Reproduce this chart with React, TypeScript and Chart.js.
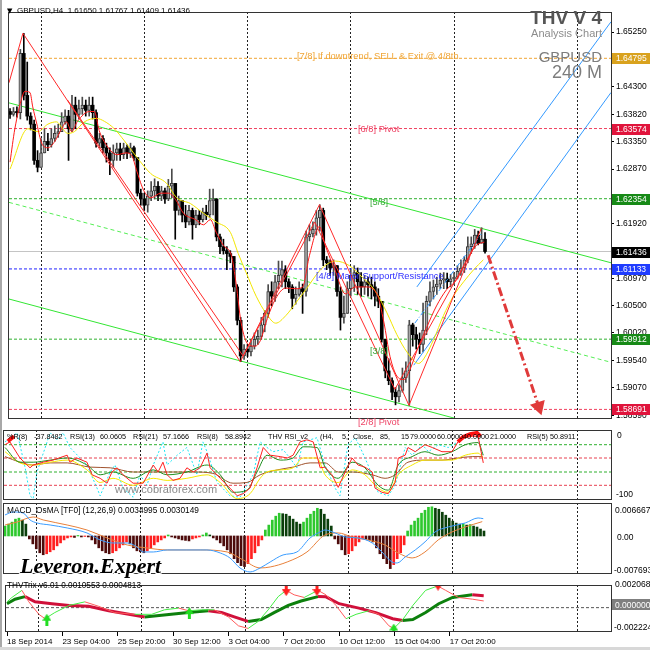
import React, { useEffect, useRef } from "react";
import { Chart, registerables } from "chart.js";
Chart.register(...registerables);

const FONT = '"Liberation Sans", Arial, sans-serif';
const X_MIN = -0.3;
const X_MAX = 174.6;

// ---------- price panel ----------
const PRICE_MIN = 1.58524;
const PRICE_MAX = 1.656;
const firstOpen = 1.6387;
const closes = [
  1.6382, 1.6387, 1.6385, 1.6488, 1.6415, 1.6379, 1.6365, 1.6302, 1.629, 1.6315,
  1.6335, 1.6329, 1.634, 1.6349, 1.6352, 1.6369, 1.6379, 1.6357, 1.6398, 1.6382,
  1.6392, 1.6398, 1.6389, 1.6398, 1.6385, 1.6332, 1.634, 1.6324, 1.6315, 1.6302,
  1.6315, 1.6322, 1.6312, 1.6324, 1.6315, 1.6324, 1.6307, 1.6245, 1.6235, 1.6224,
  1.624, 1.6249, 1.6257, 1.624, 1.6249, 1.6235, 1.6257, 1.6262, 1.6215, 1.6232,
  1.6207, 1.6195, 1.6215, 1.619, 1.6207, 1.6199, 1.6212, 1.6207, 1.6232, 1.6235,
  1.6169, 1.6152, 1.6145, 1.614, 1.6135, 1.6082, 1.6024, 1.5962, 1.5974, 1.5969,
  1.5979, 1.5991, 1.5996, 1.6016, 1.6036, 1.6074, 1.6066, 1.6091, 1.6102, 1.6112,
  1.6091, 1.6082, 1.6062, 1.6069, 1.6079, 1.6074, 1.6169, 1.6174, 1.6182, 1.6202,
  1.6215, 1.6129, 1.6124, 1.6115, 1.6119, 1.6074, 1.6029, 1.6036, 1.6079, 1.6102,
  1.6107, 1.6091, 1.6082, 1.6091, 1.6086, 1.6082, 1.6066, 1.6057, 1.5991, 1.5936,
  1.5919, 1.5899, 1.5891, 1.5902, 1.5924, 1.5936, 1.6016, 1.5999, 1.5991, 1.5982,
  1.6007, 1.6057, 1.6074, 1.6082, 1.6087, 1.6094, 1.6096, 1.6091, 1.6096, 1.6099,
  1.6109, 1.6115, 1.6129, 1.6152, 1.6157, 1.6172, 1.6158, 1.6165, 1.61436,
];
const highs = [
  1.6392, 1.6394, 1.6395, 1.6495, 1.6523, 1.6473, 1.6385, 1.6372, 1.6319, 1.634,
  1.6357, 1.6349, 1.6357, 1.6362, 1.6365, 1.6385, 1.639, 1.6389, 1.6415, 1.6412,
  1.6407, 1.6412, 1.6407, 1.6412, 1.6412, 1.639, 1.6349, 1.6345, 1.6332, 1.6324,
  1.6329, 1.6332, 1.6332, 1.6332, 1.6329, 1.6332, 1.6327, 1.6307, 1.6252, 1.6245,
  1.6249, 1.6265, 1.627, 1.6265, 1.6257, 1.6254, 1.6269, 1.6287, 1.6257, 1.624,
  1.6232, 1.6224, 1.6224, 1.6219, 1.6215, 1.6215, 1.6219, 1.6224, 1.6252, 1.6252,
  1.6235, 1.6174, 1.6165, 1.6152, 1.6145, 1.6135, 1.6086, 1.6029, 1.5982, 1.5982,
  1.5991, 1.6002, 1.6007, 1.6029, 1.6041, 1.6086, 1.6091, 1.6102, 1.6127, 1.6127,
  1.6119, 1.6096, 1.6086, 1.6082, 1.6091, 1.6087, 1.6179, 1.619, 1.6195, 1.6215,
  1.6225, 1.6219, 1.6135, 1.6129, 1.6129, 1.6119, 1.6082, 1.6066, 1.6091, 1.6112,
  1.6119, 1.6115, 1.6107, 1.6102, 1.6099, 1.6099, 1.6091, 1.6079, 1.6057, 1.5991,
  1.5957, 1.5924, 1.5907, 1.5912, 1.5941, 1.5952, 1.6024, 1.6019, 1.6012, 1.6002,
  1.6054, 1.6066, 1.6091, 1.6094, 1.6099, 1.6106, 1.6107, 1.6106, 1.6104, 1.6107,
  1.6119, 1.6129, 1.6135, 1.6169, 1.6169, 1.6182, 1.6179, 1.6185, 1.61767,
];
const lows = [
  1.6375, 1.6379, 1.6377, 1.6374, 1.6407, 1.6372, 1.6355, 1.6295, 1.6282, 1.629,
  1.6315, 1.6319, 1.6325, 1.6335, 1.6342, 1.6352, 1.6365, 1.6302, 1.6352, 1.6357,
  1.6374, 1.6382, 1.6379, 1.6379, 1.6374, 1.6325, 1.6324, 1.6315, 1.6299, 1.6277,
  1.629, 1.6302, 1.6302, 1.6305, 1.6305, 1.6307, 1.6302, 1.624, 1.6224, 1.6215,
  1.6212, 1.6232, 1.6235, 1.6232, 1.6232, 1.6227, 1.6232, 1.6237, 1.6165, 1.6207,
  1.6195, 1.6185, 1.619, 1.6165, 1.6185, 1.619, 1.6195, 1.6199, 1.6202, 1.6207,
  1.6162, 1.614, 1.6139, 1.6112, 1.6124, 1.6074, 1.6016, 1.5952, 1.5956, 1.5961,
  1.5962, 1.5974, 1.5982, 1.5991, 1.6004, 1.6029, 1.6049, 1.6057, 1.6079, 1.6082,
  1.6079, 1.6072, 1.6044, 1.6052, 1.6066, 1.6036, 1.6066, 1.6162, 1.6169, 1.6172,
  1.6179, 1.6119, 1.6112, 1.6102, 1.6102, 1.6066, 1.6007, 1.6019, 1.6062, 1.6066,
  1.6074, 1.6069, 1.6066, 1.6069, 1.6066, 1.6061, 1.6049, 1.6046, 1.5986, 1.5924,
  1.5912, 1.5886, 1.5877, 1.5882, 1.5899, 1.5916, 1.5876, 1.5979, 1.5974, 1.5966,
  1.5969, 1.5999, 1.6049, 1.6061, 1.6069, 1.6079, 1.6079, 1.6079, 1.6082, 1.6086,
  1.6096, 1.6102, 1.6107, 1.6124, 1.614, 1.6149, 1.6155, 1.6162, 1.61409,
];

const priceTicks = [1.6525, 1.643, 1.6382, 1.6335, 1.6287, 1.6192, 1.6097, 1.605, 1.6002, 1.5954, 1.5907, 1.5859];
const gridTicks = [9, 39, 69, 99, 129, 165];
const dateTicks = [0, 16, 32, 48, 64, 80, 96, 112, 128];
const dateLabels = ["18 Sep 2014", "23 Sep 04:00", "25 Sep 20:00", "30 Sep 12:00", "3 Oct 04:00", "7 Oct 20:00", "10 Oct 12:00", "15 Oct 04:00", "17 Oct 20:00"];

const levelPrices = [1.64795, 1.63574, 1.62354, 1.61133, 1.59912, 1.58691];
const levelColors = ["#f0a535", "#f0405e", "#2fb02f", "#2323ff", "#2fb02f", "#f0405e"];
const badgeColors = ["#d9a21e", "#e0143c", "#178a17", "#1f3cff", "#178a17", "#e0143c"];
const bidPrice = 1.61436;

const yellowMA: [number, number][] = [[0,1.6287],[5.2,1.6357],[8.1,1.6352],[11,1.6365],[13.5,1.6369],[15.3,1.6357],[16.7,1.6349],[18.7,1.6352],[21.6,1.6369],[25.1,1.6375],[27.4,1.637],[30.3,1.6357],[33.1,1.6337],[36.9,1.6307],[40.9,1.6279],[45.5,1.6262],[48.4,1.6237],[52.4,1.6227],[56.2,1.621],[59.9,1.6195],[64,1.6177],[66.3,1.614],[68.6,1.6107],[71.5,1.6066],[74.4,1.6036],[77.2,1.6019],[80.1,1.6032],[83,1.6054],[85.9,1.6077],[89.9,1.611],[92.2,1.6122],[94.5,1.6127],[98.6,1.6119],[102.3,1.6099],[105.2,1.6082],[106.6,1.607],[109.5,1.6037],[112.4,1.5999],[115.3,1.5969],[118.7,1.5949],[120.2,1.5957],[123.1,1.5991],[125.9,1.6032],[128.8,1.6066],[131.8,1.6091],[134.7,1.6112],[137.5,1.6129]];
const redMA: [number, number][] = [[0,1.6299],[1.4,1.6357],[3.5,1.6412],[4.3,1.6422],[5.8,1.642],[6.6,1.6395],[7.8,1.6365],[9.2,1.6332],[11,1.6324],[13,1.6335],[15,1.6357],[16.4,1.6369],[17.9,1.6352],[19.6,1.637],[23.1,1.6387],[24.5,1.6387],[25.9,1.6354],[28.2,1.6327],[31.1,1.6312],[33.7,1.6315],[35.4,1.631],[36.9,1.6282],[38.9,1.6249],[40.9,1.6237],[43.8,1.6245],[46.1,1.6245],[48.1,1.6234],[50.4,1.621],[53.9,1.6199],[56.2,1.619],[58.2,1.6199],[59.9,1.6177],[62,1.6154],[64.3,1.6137],[65.7,1.6087],[67.1,1.6021],[69.2,1.5982],[71.2,1.5979],[72.9,1.5991],[74.4,1.6021],[77.2,1.6062],[80.1,1.608],[83,1.6079],[85,1.6082],[87,1.6137],[89.9,1.6187],[91.6,1.6154],[94.5,1.611],[97.4,1.607],[100.3,1.6082],[103.2,1.6082],[106.6,1.607],[108.6,1.6021],[110.4,1.5961],[112.4,1.5927],[114.4,1.5921],[116.1,1.5937],[118.2,1.5971],[121,1.6011],[123.9,1.6049],[126.8,1.6077],[129.7,1.6094],[132.6,1.6127],[135.4,1.6154],[137.8,1.616]];
const zigMajor: [number, number][] = [[-0.3,1.6437],[3.75,1.6523],[66.9,1.5952],[89.9,1.6225],[115.9,1.5876],[136.9,1.6184]];
const zigMinor: [number, number][] = [[16.7,1.6407],[67.7,1.5962],[88.5,1.6195],[111.8,1.5904],[134.6,1.6149]];
const chUpper: [number, number][] = [[-0.3,1.6402],[174.6,1.6124]];
const chMid: [number, number][] = [[-0.3,1.6229],[174.6,1.5951]];
const chLower: [number, number][] = [[-0.3,1.6061],[174.6,1.5781]];
const blueUpper: [number, number][] = [[118.2,1.6082],[174.6,1.6543]];
const blueLower: [number, number][] = [[117.3,1.5946],[174.6,1.642]];
const blueMid: [number, number][] = [[117.6,1.6019],[136.9,1.6174]];
const arrowLine: [number, number][] = [[138.9,1.6137],[153.6,1.5874]];

// ---------- RSI panel ----------
const rsiLevels = [-21, -40, -60, -79];
const rsiLevelColors = ["#2fb02f", "#e84050", "#2fb02f", "#e84050"];
const rsiRed: [number, number][] = [[0,-21],[1.4,-17],[4.3,-40],[7.2,-54],[8.1,-50],[11,-46],[13.8,-43],[16.7,-38],[17.9,-36],[18.7,-46],[20.7,-40],[23.6,-46],[25.1,-64],[27.4,-69],[29.4,-76],[30.8,-60],[32.3,-54],[34,-64],[36.9,-76],[39.8,-76],[42.7,-50],[44.1,-60],[45.5,-46],[46.7,-64],[48.4,-72],[50.4,-69],[52.4,-54],[54.2,-60],[56.2,-54],[58.2,-33],[59.1,-54],[62,-69],[64.8,-83],[66.9,-94],[68.6,-91],[70.6,-83],[72.6,-54],[74.4,-25],[76.4,-36],[79.3,-38],[81.3,-40],[83,-36],[85,-17],[87,-14],[88.8,-17],[90.8,-54],[92.2,-53],[94.2,-64],[96,-82],[98,-60],[100,-40],[101.7,-50],[103.7,-53],[105.8,-60],[106.6,-83],[108.6,-89],[110.4,-91],[112.4,-75],[113.3,-40],[115.3,-36],[116.1,-25],[118.2,-31],[121,-21],[123.1,-25],[125.9,-31],[128.8,-31],[130.5,-17],[132.6,-11],[134.6,-9],[136.3,-9],[137.8,-47]];
const rsiGreen: [number, number][] = [[0,-25],[4.3,-46],[8.1,-46],[13,-43],[17.9,-40],[23.6,-50],[27.4,-64],[31.1,-60],[36.9,-69],[42.7,-57],[46.7,-64],[52.4,-60],[58.2,-50],[62,-64],[65.7,-89],[69.7,-86],[72.6,-60],[75.5,-36],[79.3,-43],[83,-40],[85.9,-24],[89.9,-25],[92.2,-53],[96,-69],[100,-46],[103.7,-54],[107.5,-79],[110.4,-86],[113.3,-50],[117.3,-38],[121,-31],[124.8,-36],[128.8,-31],[132.6,-21],[136.3,-18],[137.8,-36]];
const rsiYellow: [number, number][] = [[0,-31],[4.3,-47],[8.1,-50],[13,-46],[17.9,-43],[23.6,-57],[27.4,-75],[31.1,-69],[36.9,-79],[42.7,-69],[46.7,-72],[52.4,-69],[58.2,-64],[62,-75],[66.9,-98],[70.6,-91],[73.5,-69],[75.5,-60],[79.3,-57],[83,-54],[85.9,-40],[89.9,-40],[92.2,-64],[96,-75],[100,-57],[103.7,-64],[107.5,-83],[110.4,-89],[113.3,-64],[117.3,-50],[121,-43],[124.8,-43],[128.8,-43],[132.6,-36],[136.3,-33],[137.8,-40]];
const rsiBrown: [number, number][] = [[0,-38],[4.3,-46],[8.1,-50],[13,-47],[17.9,-47],[24.5,-53],[30.3,-54],[36.9,-60],[42.7,-60],[48.4,-60],[54.2,-60],[59.9,-62],[65.7,-76],[69.7,-75],[73.5,-64],[78.4,-57],[83,-53],[87.9,-47],[92.2,-47],[96,-60],[100,-60],[105.8,-64],[109.5,-69],[112.4,-64],[116.1,-46],[121,-43],[125.9,-43],[130.5,-40],[134.6,-38],[137.5,-38]];
const rsiCyan: [number, number][] = [[0,-17],[3.5,-4],[5.8,-54],[7.2,-94],[8.1,-98],[9.2,-60],[13,-4],[15,-14],[16.7,-4],[18.7,-25],[23.6,-50],[26.5,-83],[27.4,-94],[30.3,-60],[31.7,-50],[34,-83],[36.9,-96],[38.9,-64],[40.9,-79],[42.7,-50],[45.5,-17],[46.7,-50],[49.6,-36],[52.4,-25],[55.3,-64],[57,-17],[58.2,-31],[61.1,-75],[64.8,-94],[67.7,-96],[71.5,-64],[73.5,-17],[75.5,-25],[77.2,-31],[80.1,-28],[82.1,-40],[84.1,-54],[85.9,-17],[89.9,-11],[92.2,-50],[95.1,-83],[96.5,-94],[98.8,-21],[100.9,-11],[102.9,-31],[104.6,-50],[107.5,-89],[110.4,-94],[112.4,-79],[115.3,-25],[117.3,-36],[120.2,-21],[122,-31],[124.8,-21],[127.7,-25],[130.5,-17],[133.4,-9],[136,-2],[137.5,-36]];
const rsiRedThickA: [number, number][] = [[0.8,-16],[2.6,-9]];
const rsiRedThickB: [number, number][] = [[130.5,-17],[132,-10],[134,-6],[136,-4],[137,-9]];
const rsiLegend: [number, string][] = [[7,"%R(8)"],[34,"-37.8482"],[70,"RSI(13)"],[100,"60.0605"],[133,"RSI(21)"],[163,"57.1666"],[197,"RSI(8)"],[225,"58.8942"],[268,"THV RSI_v2"],[320,"(H4,"],[342,"5,"],[353,"Close,"],[380,"85,"],[401,"15"],[410,"79.0000"],[437,"60.0000"],[463,"40.0000"],[490,"21.0000"],[527,"RSI(5)"],[550,"50.8911"]];

// ---------- MACD panel ----------
const MACD_MAX = 0.006667;
const MACD_MIN = -0.007693;
const macdHist = [
  0.002, 0.0024, 0.0028, 0.0034, 0.0036, 0.0032, 0.0024, -0.0006, -0.0016, -0.0026,
  -0.0034, -0.0038, -0.0036, -0.0032, -0.0028, -0.002, -0.0014, -0.0008, -0.0004, -0.0002,
  -0.0003, 0.0001, -0.0002, -0.0001, -0.0002, -0.0008, -0.0016, -0.0024, -0.003, -0.0034,
  -0.0036, -0.0034, -0.003, -0.0024, -0.0018, -0.0012, -0.0016, -0.0024, -0.003, -0.0032,
  -0.0034, -0.003, -0.0024, -0.0018, -0.0012, -0.0008, -0.0004, 0.0002, -0.0002, -0.0004,
  -0.0006, -0.0008, -0.0009, -0.001, -0.0006, -0.0004, -0.0002, 0.0002, 0.0006, 0.0002,
  -0.0004, -0.0008, -0.0014, -0.002, -0.0028, -0.0036, -0.0046, -0.0054, -0.006, -0.0062,
  -0.0056, -0.0046, -0.0034, -0.002, -0.0008, 0.0012, 0.0022, 0.0032, 0.004, 0.0046,
  0.0045, 0.0044, 0.004, 0.0034, 0.0028, 0.0024, 0.0028, 0.0036, 0.0044, 0.005,
  0.0056, 0.0054, 0.0044, 0.0034, 0.002, -0.0006, -0.0016, -0.0028, -0.0038, -0.0036,
  -0.003, -0.002, -0.0012, -0.0006, -0.0007, -0.0008, -0.0012, -0.0024, -0.0036, -0.0046,
  -0.0056, -0.0066, -0.0058, -0.0046, -0.0034, -0.0018, 0.001, 0.0022, 0.003, 0.0036,
  0.0046, 0.0052, 0.0058, 0.0059, 0.0056, 0.0054, 0.0048, 0.0042, 0.0036, 0.003,
  0.0026, 0.0024, 0.0025, 0.0022, 0.0023, 0.002, 0.0018, 0.0014, 0.001,
];
const macdBlue: [number, number][] = [[0,0.00425],[2.3,0.00485],[5.2,0.00465],[7.2,0.00324],[9.2,0.00263],[13,0.00222],[17.9,0.00162],[23.6,0.00061],[27.4,-0.00081],[31.1,-0.00142],[35.2,-0.00142],[38,-0.00222],[39.8,-0.00324],[42.7,-0.00324],[46.7,-0.00283],[52.4,-0.00283],[58.2,-0.00283],[62,-0.00344],[64.8,-0.00445],[67.7,-0.00647],[70.6,-0.00728],[73.5,-0.00647],[76.4,-0.00526],[80.1,-0.00384],[84.1,-0.00324],[87.9,-0.0004],[90.8,0.00081],[92.2,0.00121],[95.1,0.00061],[98,-0.0002],[101.7,-0.0004],[105.8,-0.00142],[108.6,-0.00324],[111.5,-0.00526],[113,-0.00546],[115.3,-0.00425],[118.2,-0.00283],[121,-0.00121],[123.9,0.00081],[127.7,0.00182],[132.6,0.00263],[136.3,0.00364],[137.8,0.0035]];
const macdOrange: [number, number][] = [[0,0.00222],[3.5,0.00283],[8.1,0.00384],[11,0.00324],[17.9,0.00222],[23.6,0.00121],[29.4,-0.0004],[35.2,-0.00182],[40.9,-0.00243],[46.7,-0.00283],[56.2,-0.00283],[64,-0.00324],[68.6,-0.00485],[73.5,-0.00647],[76.4,-0.00627],[81.3,-0.00526],[87,-0.00324],[92.2,0.0002],[96,0.00061],[100,-0.0002],[104.6,-0.00081],[109.5,-0.00182],[113.3,-0.00344],[117.3,-0.00445],[121,-0.00324],[124.8,-0.00081],[128.8,0.00081],[132.6,0.00182],[137.5,0.0029]];

// ---------- Trix panel ----------
const TRIX_MAX = 0.002068;
const TRIX_MIN = -0.002224;
const trixThick: [number, number][] = [[0,0.00036],[2.3,0.00077],[5.2,0.00101],[8.1,0.00053],[13,0.00036],[17.9,0.0002],[23.6,0.00012],[29.4,-0.00028],[35.2,-0.00061],[39.8,-0.00085],[44.7,-0.00069],[52.4,-0.00045],[58.2,-0.00028],[62,-0.00045],[65.7,-0.00085],[69.7,-0.00126],[73.5,-0.00109],[77.2,-0.00045],[81.3,0.0002],[85,0.00061],[89.9,0.00101],[92.2,0.00099],[96,0.00036],[101.7,-0.00004],[106.6,-0.00045],[111.5,-0.00101],[114.4,-0.00117],[117.3,-0.00109],[121,-0.00045],[124.8,0.00036],[128.8,0.00093],[134.5,0.00117],[137.8,0.00109]];
const trixThin: [number, number][] = [[0,0.00053],[1.4,0.00093],[4.3,0.00158],[6.3,0.00053],[9.2,-0.00061],[11,-0.00101],[13.8,-0.00045],[17.9,0.0002],[22.5,0.00053],[26.5,0.00012],[31.1,-0.00045],[36.9,-0.00061],[41.8,-0.00061],[45.5,-0.0002],[49.6,-0.00004],[52.4,-0.00028],[56.2,-0.0002],[59.9,-0.0002],[64,-0.00085],[66.9,-0.00166],[69.7,-0.0019],[72.6,-0.00126],[75.5,-0.0002],[78.4,0.00101],[80.7,0.00158],[83,0.00117],[85.9,0.00093],[89.9,0.00158],[92.2,0.00117],[95.1,0.0002],[98,-0.00101],[100.9,-0.00061],[104.6,-0.00028],[107.5,-0.00061],[110.4,-0.00166],[111.8,-0.0019],[114.4,-0.00109],[117.3,0.0002],[121,0.00158],[124.5,0.00198],[126.8,0.00158],[130.5,0.00093],[134.6,0.00077],[137.8,0.00061]];
const trixDownArrows: [number, number][] = [[80.7,0.0016],[89.6,0.0016],[124.6,0.0021]];
const trixUpArrows: [number, number][] = [[11.5,-0.0011],[52.7,-0.0005],[111.8,-0.002]];

// ---------- helpers ----------
const pts = (a: [number, number][]) => a.map(([x, y]) => ({ x, y }));
const hline = (v: number) => [{ x: X_MIN, y: v }, { x: X_MAX, y: v }];
const line = (data: any, color: string, extra: any = {}) => ({
  type: "line", data, borderColor: color, borderWidth: 1, pointRadius: 0, fill: false, tension: 0,
  xAxisID: "x", yAxisID: "y", ...extra,
});

const framePlugin = {
  id: "frame",
  afterDraw(chart: any) {
    const { ctx, chartArea: a } = chart;
    ctx.save();
    ctx.strokeStyle = "#333";
    ctx.lineWidth = 1;
    ctx.strokeRect(Math.round(a.left) - 0.5, Math.round(a.top) + 0.5, Math.round(a.right - a.left) + 1, Math.round(a.bottom - a.top) - 1);
    ctx.restore();
  },
};

const gridAxis = () => ({
  type: "linear", position: "bottom", min: X_MIN, max: X_MAX, weight: 0, offset: false,
  afterBuildTicks: (s: any) => { s.ticks = gridTicks.map((v) => ({ value: v })); },
  ticks: { display: false },
  grid: { display: true, drawTicks: false, color: "#222", lineWidth: 1, offset: false },
  border: { display: false, dash: [2, 2] },
  afterFit: (s: any) => { s.height = 0; s.paddingLeft = 0; s.paddingRight = 0; },
});

const yAxis = (min: number, max: number, extra: any = {}) => ({
  type: "linear", position: "right", min, max,
  ticks: { display: false },
  grid: { display: false },
  border: { display: false },
  afterFit: (s: any) => { s.width = 39; s.paddingTop = 0; s.paddingBottom = 0; },
  ...extra,
});

const baseOptions = (scales: any) => ({
  responsive: false, maintainAspectRatio: false, animation: false, events: [],
  layout: { padding: { left: 4, right: 0, top: 0, bottom: 0 } },
  plugins: { legend: { display: false }, tooltip: { enabled: false }, title: { display: false } },
  scales,
});

function makeArrow(color: string, down: boolean) {
  const c = document.createElement("canvas");
  c.width = 9; c.height = 12;
  const g = c.getContext("2d")!;
  g.fillStyle = color;
  g.beginPath();
  if (down) { g.fillRect(3, 0, 3, 6); g.moveTo(0, 5); g.lineTo(9, 5); g.lineTo(4.5, 12); }
  else { g.fillRect(3, 6, 3, 6); g.moveTo(0, 7); g.lineTo(9, 7); g.lineTo(4.5, 0); }
  g.closePath(); g.fill();
  return c;
}

// ---------- charts ----------
function makePrice(cv: HTMLCanvasElement) {
  const opens = closes.map((c, i) => (i === 0 ? firstOpen : closes[i - 1]));
  const bull = closes.map((c, i) => c >= opens[i]);
  const wick = closes.map((c, i) => ({ x: i, y: [Math.min(lows[i], opens[i], c), Math.max(highs[i], opens[i], c)] }));
  const body = closes.map((c, i) => ({ x: i, y: [opens[i], c] }));
  const badgePlugin = {
    id: "badges",
    afterDraw(chart: any) {
      const { ctx, chartArea: a } = chart;
      const ys = chart.scales.y;
      ctx.save();
      ctx.font = `8.5px ${FONT}`;
      ctx.textBaseline = "middle";
      const items = levelPrices.map((p, i) => ({ p, c: badgeColors[i] })).concat([{ p: bidPrice, c: "#000" }]);
      items.forEach(({ p, c }) => {
        const py = Math.round(ys.getPixelForValue(p));
        ctx.fillStyle = c;
        ctx.fillRect(a.right + 1, py - 5, 40, 11);
        ctx.fillStyle = "#fff";
        ctx.fillText(p.toFixed(5), a.right + 5, py + 0.5);
      });
      ctx.restore();
    },
  };
  const levelSets = levelPrices.map((p, i) => line(hline(p), levelColors[i], { borderDash: [3, 2], order: 7 }));
  return new Chart(cv, {
    type: "bar",
    data: {
      datasets: [
        line(pts(arrowLine), "#e03a3a", {
          borderWidth: 3, borderDash: [9, 3, 2, 3], order: 0,
          pointRadius: [0, 6], pointStyle: "triangle", pointRotation: [0, 162],
          pointBackgroundColor: "#e03a3a", pointBorderColor: "#e03a3a",
        }),
        line(pts(zigMajor), "#ff2a2a", { order: 1 }),
        line(pts(zigMinor), "#ff2a2a", { order: 1 }),
        line(pts(redMA), "#ff1a1a", { order: 2, cubicInterpolationMode: "monotone" }),
        line(pts(yellowMA), "#f2e600", { order: 2, cubicInterpolationMode: "monotone" }),
        line(pts(blueUpper), "#3399ff", { order: 3 }),
        line(pts(blueLower), "#3399ff", { order: 3 }),
        line(pts(blueMid), "#3399ff", { order: 3, borderDash: [5, 2, 1, 2] }),
        {
          type: "bar", data: body, grouped: false, barThickness: 3, minBarLength: 1, order: 4,
          backgroundColor: bull.map((b) => (b ? "#a8a8a8" : "#000")),
          borderColor: bull.map((b) => (b ? "#3a3a3a" : "#000")),
          borderWidth: bull.map((b) => (b ? 1 : 0)), borderSkipped: false, xAxisID: "x", yAxisID: "y",
        },
        {
          type: "bar", data: wick, grouped: false, barThickness: 1, order: 5,
          backgroundColor: bull.map((b) => (b ? "#4a4a4a" : "#000")), xAxisID: "x", yAxisID: "y",
        },
        line(pts(chUpper), "#33e633", { order: 6 }),
        line(pts(chMid), "#55ee55", { order: 6, borderDash: [4, 3] }),
        line(pts(chLower), "#33e633", { order: 6 }),
        ...levelSets,
        line(hline(bidPrice), "#c4c4c4", { order: 8 }),
      ],
    } as any,
    options: baseOptions({
      x: gridAxis(),
      y: yAxis(PRICE_MIN, PRICE_MAX, {
        afterBuildTicks: (s: any) => { s.ticks = priceTicks.map((v) => ({ value: v })); },
        ticks: { display: true, autoSkip: false, padding: 2, color: "#000", font: { family: FONT, size: 8.5 }, callback: (v: any) => Number(v).toFixed(5) },
        grid: { display: true, drawOnChartArea: false, drawTicks: true, tickLength: 3, color: "#000" },
      }),
    }) as any,
    plugins: [framePlugin, badgePlugin],
  });
}

function makeRsi(cv: HTMLCanvasElement) {
  return new Chart(cv, {
    type: "line",
    data: {
      datasets: [
        line(pts(rsiRedThickA), "#ff1010", { borderWidth: 4, order: 0 }),
        line(pts(rsiRedThickB), "#ff1010", { borderWidth: 4, order: 0 }),
        line(pts(rsiRed), "#ff2020", { order: 1 }),
        line(pts(rsiGreen), "#1f8f1f", { order: 2, cubicInterpolationMode: "monotone" }),
        line(pts(rsiYellow), "#f5e800", { order: 3, cubicInterpolationMode: "monotone" }),
        line(pts(rsiBrown), "#a0522d", { order: 4, cubicInterpolationMode: "monotone" }),
        line(pts(rsiCyan), "#1ee6f5", { order: 5, borderDash: [2, 2] }),
        ...rsiLevels.map((v, i) => line(hline(v), rsiLevelColors[i], { borderDash: [3, 2], order: 6 })),
      ],
    } as any,
    options: baseOptions({ x: gridAxis(), y: yAxis(-100, 0) }) as any,
    plugins: [framePlugin],
  });
}

function makeMacd(cv: HTMLCanvasElement) {
  const colors = macdHist.map((v, i) => {
    const prev = i === 0 ? v : macdHist[i - 1];
    if (v >= 0) return v >= prev ? "#2ec82e" : "#0b3f0b";
    return v <= prev ? "#4d0b0b" : "#ff1f1f";
  });
  return new Chart(cv, {
    type: "bar",
    data: {
      datasets: [
        line(pts(macdBlue), "#3a9cff", { order: 0, cubicInterpolationMode: "monotone" }),
        line(pts(macdOrange), "#e8803a", { order: 1, cubicInterpolationMode: "monotone" }),
        {
          type: "bar", data: macdHist.map((v, i) => ({ x: i, y: v })), grouped: false, barThickness: 2,
          backgroundColor: colors, order: 2, xAxisID: "x", yAxisID: "y",
        },
      ],
    } as any,
    options: baseOptions({ x: gridAxis(), y: yAxis(MACD_MIN, MACD_MAX) }) as any,
    plugins: [framePlugin],
  });
}

function makeTrix(cv: HTMLCanvasElement) {
  const up = (c: any) => c.p1.parsed.y >= c.p0.parsed.y;
  return new Chart(cv, {
    type: "line",
    data: {
      datasets: [
        { type: "line", data: pts(trixDownArrows), showLine: false, pointStyle: makeArrow("#ff2020", true), pointRadius: 5, xAxisID: "x", yAxisID: "y", order: 0 },
        { type: "line", data: pts(trixUpArrows), showLine: false, pointStyle: makeArrow("#22dd22", false), pointRadius: 5, xAxisID: "x", yAxisID: "y", order: 0 },
        line(pts(trixThin), "#ff5555", { order: 1, segment: { borderColor: (c: any) => (up(c) ? "#44ee44" : "#ff5a5a") } }),
        line(pts(trixThick), "#d0103a", { order: 2, borderWidth: 3, segment: { borderColor: (c: any) => (up(c) ? "#0d800d" : "#d0103a") } }),
        line(hline(0), "#555", { borderDash: [3, 2], order: 3 }),
      ],
    } as any,
    options: baseOptions({
      x: gridAxis(),
      xd: {
        type: "linear", position: "bottom", min: X_MIN, max: X_MAX, weight: 1, offset: false,
        afterBuildTicks: (s: any) => { s.ticks = dateTicks.map((v) => ({ value: v })); },
        ticks: { autoSkip: false, maxRotation: 0, minRotation: 0, align: "start", padding: 1, color: "#000", font: { family: FONT, size: 8 }, callback: (_v: any, i: number) => dateLabels[i] },
        grid: { display: true, drawOnChartArea: false, drawTicks: true, tickLength: 4, color: "#000" },
        border: { display: false },
        afterFit: (s: any) => { s.height = 18; s.paddingLeft = 0; s.paddingRight = 0; },
      },
      y: yAxis(TRIX_MIN, TRIX_MAX),
    }) as any,
    plugins: [framePlugin],
  });
}

function Panel({ top, height, make }: { top: number; height: number; make: (c: HTMLCanvasElement) => Chart }) {
  const ref = useRef<HTMLCanvasElement>(null);
  useEffect(() => {
    const chart = make(ref.current!);
    return () => chart.destroy();
  }, []);
  return <canvas ref={ref} width={650} height={height} style={{ position: "absolute", left: 0, top, width: 650, height }} />;
}

function T({ x, y, size = 8.5, color = "#000", right, style, children }: any) {
  return (
    <div
      style={{
        position: "absolute", left: right === undefined ? x : undefined, right, top: y, transform: "translateY(-50%)",
        fontFamily: FONT, fontSize: size, color, whiteSpace: "pre", lineHeight: 1, ...style,
      }}
    >
      {children}
    </div>
  );
}

export default function App() {
  return (
    <div style={{ position: "absolute", left: 0, top: 0, width: 650, height: 650, overflow: "hidden", background: "#fff" }}>
      <div style={{ position: "absolute", left: 0, top: 0, width: 2, height: 650, background: "#a8a8a8" }} />
      <div style={{ position: "absolute", left: 0, top: 647, width: 650, height: 3, background: "#d8d8d8" }} />
      <Panel top={3} height={425} make={makePrice} />
      <Panel top={430} height={70} make={makeRsi} />
      <Panel top={503} height={71} make={makeMacd} />
      <Panel top={579} height={71} make={makeTrix} />

      <T x={7} y={11} size={7} style={{ fontFamily: '"DejaVu Sans", sans-serif' }}>▼</T>
      <T x={17} y={11} size={8}>GBPUSD,H4  1.61650 1.61767 1.61409 1.61436</T>

      <T right={48} y={17} size={19} color="#555" style={{ fontWeight: "bold" }}>THV V 4</T>
      <T right={48} y={33} size={11} color="#8c8c8c">Analysis Chart</T>
      <T right={48} y={56} size={15} color="#7d7d7d">GBPUSD</T>
      <T right={48} y={72} size={18} color="#7d7d7d">240 M</T>

      <T x={297} y={57} size={9.3} color="#f0a535">[7/8] If downtrend, SELL &amp; Exit @ 4/8th</T>
      <T x={358} y={130} size={9.3} color="#ee4466">[6/8] Pivot</T>
      <T x={370} y={203} size={9.3} color="#3aa83a">[5/8]</T>
      <T x={316} y={277} size={9.3} color="#3030ff">[4/8] Major Support/Resistance</T>
      <T x={370} y={352} size={9.3} color="#3aa83a">[3/8]</T>
      <T x={358} y={423} size={9.3} color="#ee4466">[2/8] Pivot</T>

      {rsiLegend.map(([x, s], i) => (
        <T key={i} x={x} y={437} size={8} style={{ transform: "translateY(-50%) scaleX(0.9)", transformOrigin: "left center" }}>{s}</T>
      ))}
      <T x={115} y={489} size={11} color="#8a8a8a">www.cobraforex.com</T>
      <T x={617} y={435}>0</T>
      <T x={616} y={494}>-100</T>

      <T x={7} y={510} size={8.3}>MACD_OsMA [TF0] (12,26,9) 0.0034995 0.0030149</T>
      <T x={20} y={566} size={22} style={{ fontFamily: '"Liberation Serif", serif', fontStyle: "italic", fontWeight: "bold", textShadow: "1px 1px 0 #fff, -1px -1px 0 #fff, 1px -1px 0 #fff, -1px 1px 0 #fff" }}>Leveron.Expert</T>
      <T x={615} y={510}>0.006667</T>
      <T x={617} y={537}>0.00</T>
      <T x={614} y={570}>-0.007693</T>

      <T x={7} y={586} size={8.2}>THVTrix v6.01 0.0010553 0.0004813</T>
      <T x={615} y={584}>0.002068</T>
      <div style={{ position: "absolute", left: 612, top: 599, width: 40, height: 11, background: "#7f7f7f" }} />
      <T x={615} y={604.5} color="#fff">0.000000</T>
      <T x={614} y={627}>-0.002224</T>
    </div>
  );
}
